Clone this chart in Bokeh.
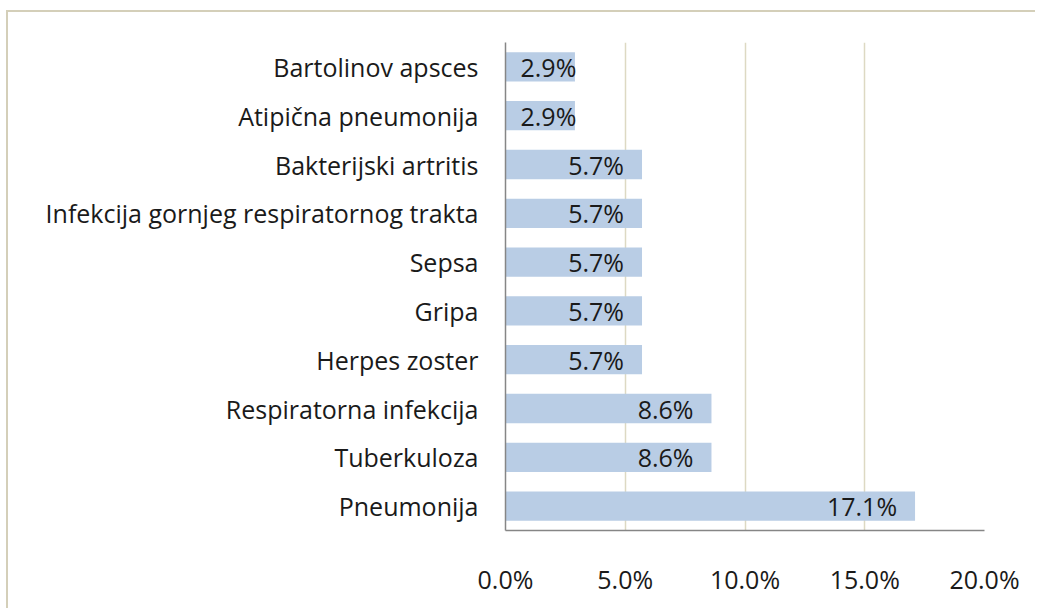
from bokeh.plotting import figure
from bokeh.models import FactorRange, Range1d, FixedTicker, PrintfTickFormatter, ColumnDataSource
from bokeh.core.properties import value
from bokeh.embed import file_html
from bokeh.resources import INLINE

categories = ["Bartolinov apsces", "Atipična pneumonija", "Bakterijski artritis",
              "Infekcija gornjeg respiratornog trakta", "Sepsa", "Gripa", "Herpes zoster",
              "Respiratorna infekcija", "Tuberkuloza", "Pneumonija"]
values = [2.9, 2.9, 5.7, 5.7, 5.7, 5.7, 5.7, 8.6, 8.6, 17.1]
x_ticks = [0, 5, 10, 15, 20]

FONT = "Open Sans"
TEXT = "#1a1a1a"
FS = "25px"

factors = list(reversed(categories))
labels = [f"{v:.1f}%" for v in values]
# Label placement: inside end, but small bars keep the label at the start of the bar
anchor = [v if v >= 4 else 0 for v in values]
align = ["right" if v >= 4 else "left" for v in values]
offset = [-18 if v >= 4 else 15 for v in values]

src = ColumnDataSource(dict(cat=categories, val=values, lab=labels,
                            anchor=anchor, align=align, off=offset))

p = figure(y_range=FactorRange(factors=factors, range_padding=0),
           x_range=Range1d(0, 20),
           width=1029, height=598, output_backend="svg", toolbar_location=None,
           min_border_left=497, min_border_right=53, min_border_top=30, min_border_bottom=80)
p.styles = {"border-top": "2px solid #D4CFB9", "border-left": "2px solid #D4CFB9",
            "margin-top": "10px", "margin-left": "6px"}

p.hbar(y="cat", right="val", left=0, height=0.6, source=src,
       fill_color="#B9CDE5", line_color=None)
p.text(x="anchor", y="cat", text="lab", source=src, text_align="align",
       x_offset="off", text_baseline="middle", text_font=value(FONT),
       text_font_size=FS, text_color=TEXT)

p.outline_line_color = None
p.ygrid.grid_line_color = None
p.xgrid.grid_line_color = "#DDD9C3"
p.xgrid.grid_line_width = 1.5

p.xaxis.ticker = FixedTicker(ticks=x_ticks)
p.xaxis.formatter = PrintfTickFormatter(format="%.1f%%")
for ax in (p.xaxis[0], p.yaxis[0]):
    ax.axis_line_color = "#868686"
    ax.axis_line_width = 1.5
    ax.major_tick_line_color = None
    ax.minor_tick_line_color = None
    ax.major_tick_out = 0
    ax.major_tick_in = 0
    ax.major_label_text_font = FONT
    ax.major_label_text_font_size = FS
    ax.major_label_text_color = TEXT
p.yaxis.major_label_standoff = 27
p.xaxis.major_label_standoff = 31

p.background_fill_color = "white"
p.border_fill_color = "white"

open("out.html", "w").write(file_html(p, INLINE))
